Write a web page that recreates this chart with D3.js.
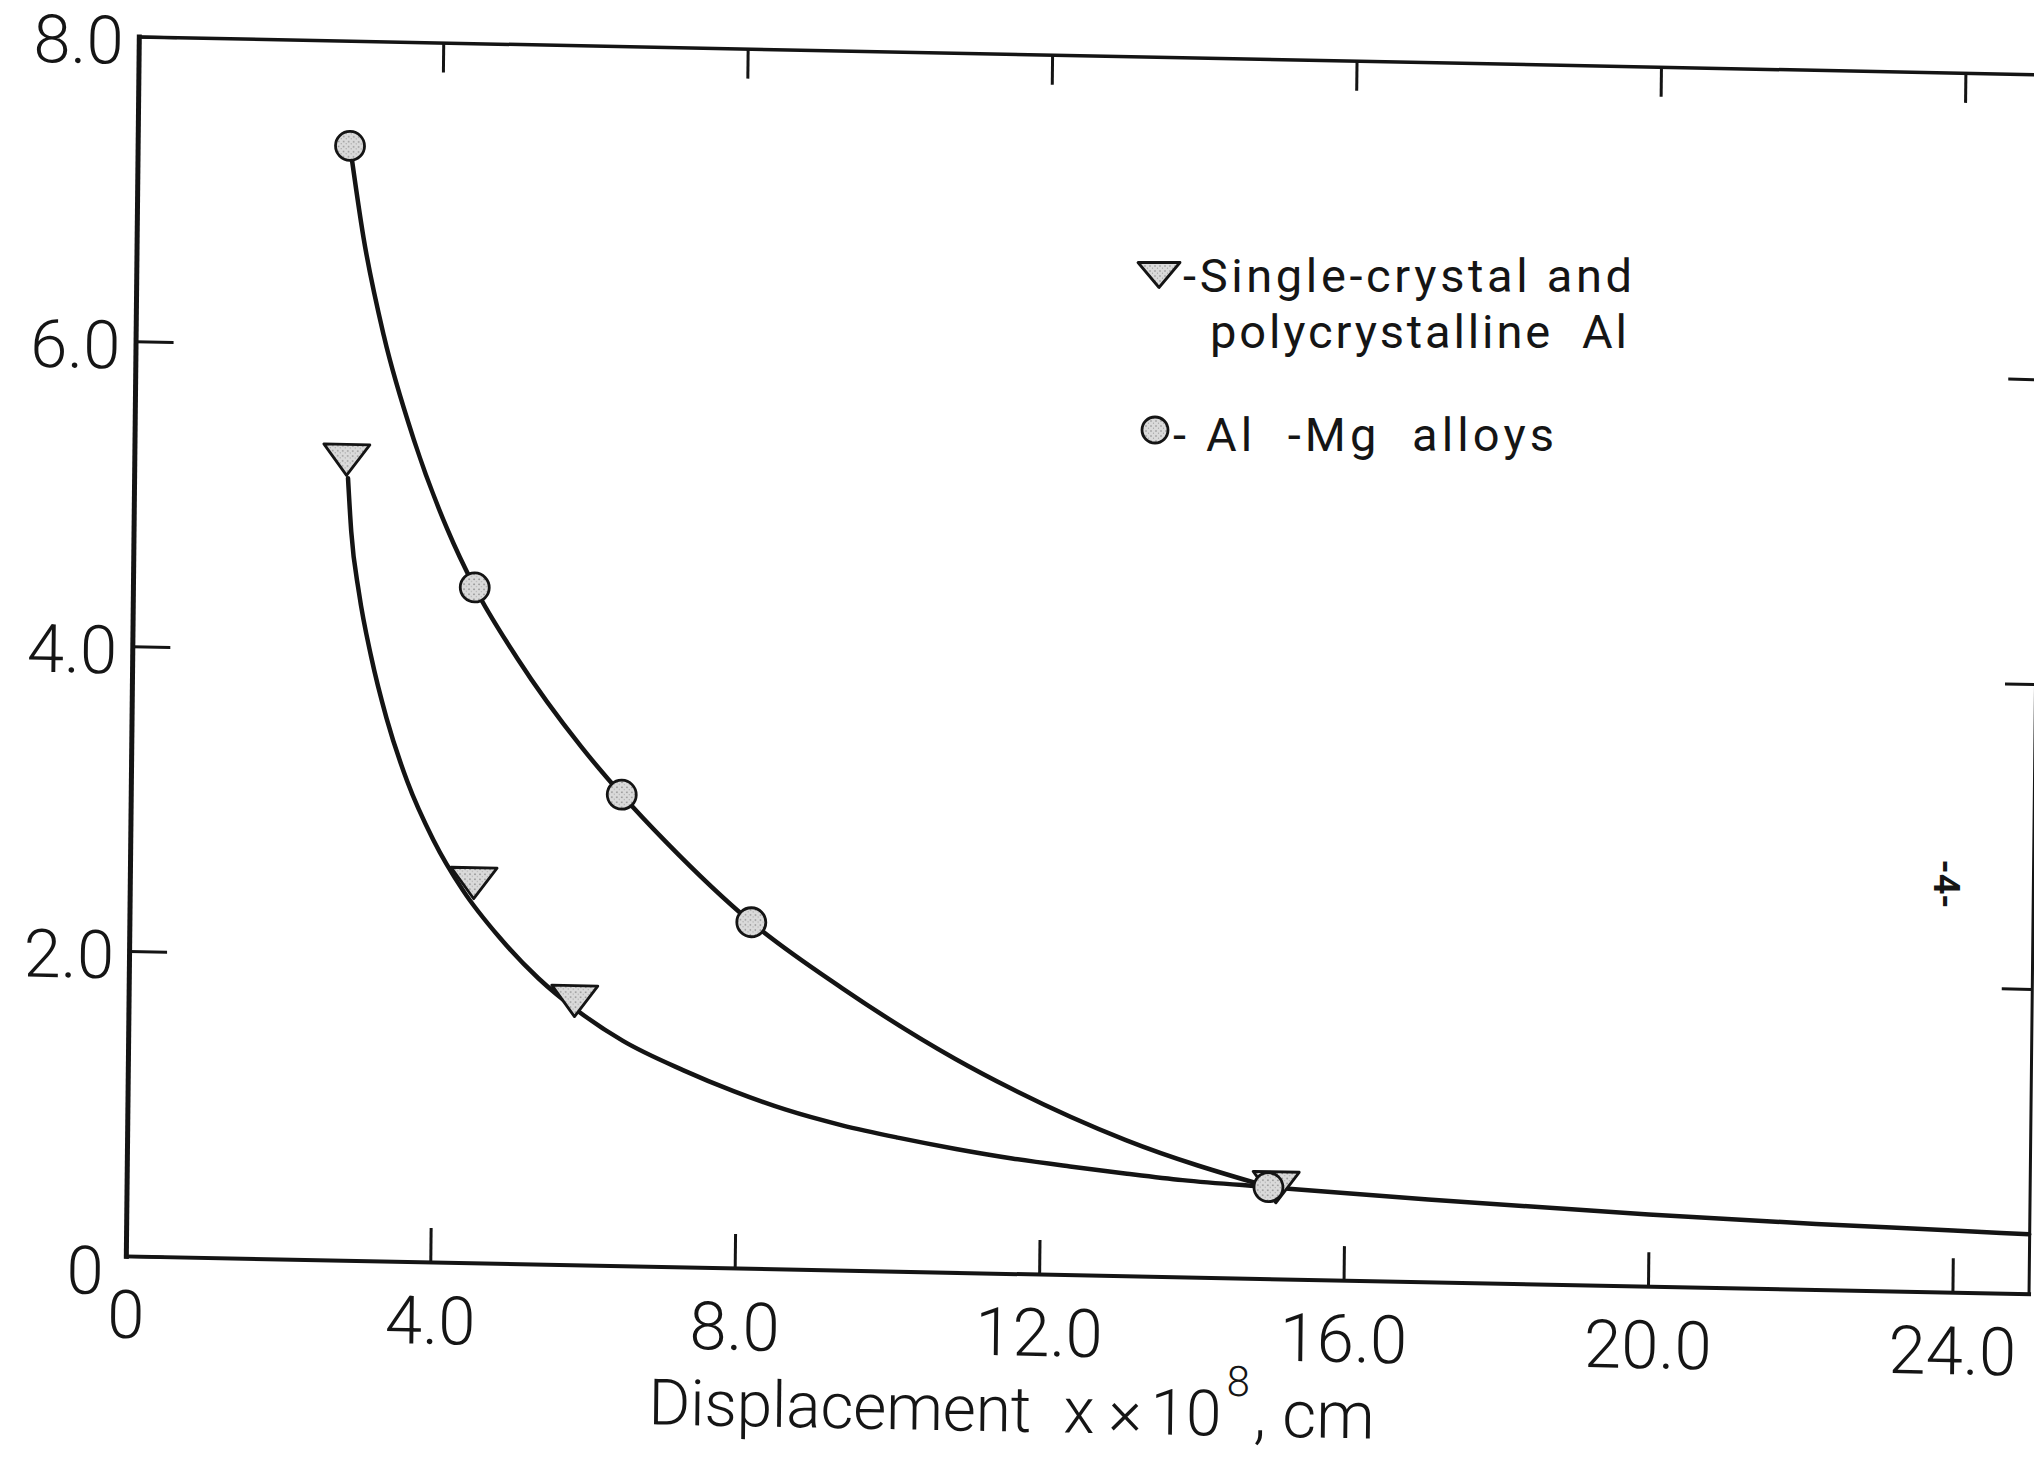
<!DOCTYPE html>
<html>
<head>
<meta charset="utf-8">
<script src="https://cdn.jsdelivr.net/npm/d3@7"></script>
<style>
  html, body { margin: 0; padding: 0; background: #fff; }
  svg { display: block; }
  text { font-family: Roboto, "DejaVu Sans", sans-serif; fill: #151515; white-space: pre; }
</style>
</head>
<body>
<svg id="chart" width="2034" height="1457"></svg>
<script>
// ---- axis ticks and labels ----
const xTicks = [0, 4, 8, 12, 16, 20, 24];
const xTickLabels = ["0", "4.0", "8.0", "12.0", "16.0", "20.0", "24.0"];
const yTicks = [0, 2, 4, 6, 8];
const yTickLabels = ["0", "2.0", "4.0", "6.0", "8.0"];
const topTicks = [4, 8, 12, 16, 20, 24];
const rightTicks = [2, 4, 6];

// ---- measured points (markers) ----
const alloyX = [2.79, 4.49, 6.45, 8.17, 15.0];
const alloyY = [7.31, 4.43, 3.09, 2.27, 0.60];
const crystalX = [2.79, 4.52, 5.86, 15.1];
const crystalY = [5.25, 2.49, 1.73, 0.60];

// ---- faired curves drawn through the data ----
const alloyCurveX = [2.79, 2.98, 3.26, 3.67, 4.12, 4.49, 5.06, 5.91, 6.45, 7.05, 8.17, 9.37,
                     10.87, 11.62, 13.12, 15.02];
const alloyCurveY = [7.31, 6.71, 6.07, 5.39, 4.81, 4.43, 3.97, 3.40, 3.09, 2.78, 2.27, 1.85,
                     1.40, 1.21, 0.89, 0.60];
const crystalCurveX = [2.81, 2.86, 2.97, 3.14, 3.35, 3.63, 3.98, 4.38, 4.86, 5.38, 5.90, 6.50,
                       7.30, 7.96, 8.65, 9.39, 10.14, 10.89, 11.63, 12.39, 13.14, 13.87, 15.02,
                       17.1, 20.0, 22.2, 24.0, 25.0];
const crystalCurveY = [5.13, 4.78, 4.38, 3.96, 3.56, 3.15, 2.77, 2.44, 2.14, 1.875, 1.667, 1.475,
                       1.29, 1.16, 1.045, 0.95, 0.875, 0.81, 0.755, 0.71, 0.67, 0.635, 0.60,
                       0.54, 0.47, 0.43, 0.405, 0.39];

// ---- text ----
const legendLines = ["-Single-crystal and", "polycrystalline  Al", "- Al  -Mg  alloys"];
const pageMark = "-4-";

// ---- drawing ----
const ink = "#141414";
const fontFam = 'Roboto, "DejaVu Sans", sans-serif';
const W = 1902.7, H = 1219.4;
// the sheet sits slightly skewed: the axis frame is mapped with a small affine tilt
const frame = "matrix(1,0.0199,-0.01063,1,138.8,36.5)";

const svg = d3.select("#chart");
svg.append("rect").attr("width", 2034).attr("height", 1457).attr("fill", "#fff");

const defs = svg.append("defs");
const pat = defs.append("pattern").attr("id", "stipple")
  .attr("patternUnits", "userSpaceOnUse").attr("width", 5).attr("height", 5);
pat.append("rect").attr("width", 5).attr("height", 5).attr("fill", "#dadada");
pat.append("circle").attr("cx", 1).attr("cy", 1).attr("r", 0.8).attr("fill", "#888");
pat.append("circle").attr("cx", 3.5).attr("cy", 3.2).attr("r", 0.6).attr("fill", "#a0a0a0");

const plot = svg.append("g").attr("transform", frame);
const x = d3.scaleLinear().domain([0, 25]).range([0, W]);
const y = d3.scaleLinear().domain([0, 8]).range([H, 0]);

function styleAxis(g, width) {
  g.attr("font-family", fontFam).attr("font-size", 67).attr("font-weight", 300);
  g.select(".domain").attr("stroke", ink).attr("stroke-width", width).attr("stroke-linecap", "square");
  g.selectAll(".tick line").attr("stroke", ink).attr("stroke-width", 3);
  g.selectAll(".tick text").attr("fill", ink);
}

// curves
const line = d3.line().x(d => x(d[0])).y(d => y(d[1])).curve(d3.curveMonotoneX);
plot.append("path")
  .attr("d", line(alloyCurveX.map((v, i) => [v, alloyCurveY[i]])))
  .attr("fill", "none").attr("stroke", ink).attr("stroke-width", 4.5).attr("stroke-linecap", "round");
plot.append("path")
  .attr("d", line(crystalCurveX.map((v, i) => [v, crystalCurveY[i]])))
  .attr("fill", "none").attr("stroke", ink).attr("stroke-width", 4.5).attr("stroke-linecap", "round");

// markers
const triPath = "M-23,-15.5L23,-15.5L0,15.5Z";
plot.selectAll(".crystal").data(crystalX.map((v, i) => [v, crystalY[i]])).join("path")
  .attr("class", "crystal")
  .attr("transform", d => `translate(${x(d[0])},${y(d[1])})`)
  .attr("d", triPath)
  .attr("fill", "url(#stipple)").attr("stroke", ink).attr("stroke-width", 2.8).attr("stroke-linejoin", "round");
plot.selectAll(".alloy").data(alloyX.map((v, i) => [v, alloyY[i]])).join("circle")
  .attr("class", "alloy")
  .attr("cx", d => x(d[0])).attr("cy", d => y(d[1])).attr("r", 14.5)
  .attr("fill", "url(#stipple)").attr("stroke", ink).attr("stroke-width", 2.8);

// axes
const gLeft = plot.append("g")
  .call(d3.axisLeft(y).tickValues(yTicks).tickSize(-38).tickSizeOuter(0)
        .tickFormat((d, i) => yTickLabels[i]));
styleAxis(gLeft, 5);
gLeft.selectAll(".tick text").attr("x", d => d === 0 ? -22 : -15).attr("y", d => d === 0 ? 38 : 27).attr("dy", "0");

const gBottom = plot.append("g").attr("transform", `translate(0,${H})`)
  .call(d3.axisBottom(x).tickValues(xTicks).tickSize(-34).tickSizeOuter(0)
        .tickFormat((d, i) => xTickLabels[i]));
styleAxis(gBottom, 4);
gBottom.selectAll(".tick text").attr("y", 82).attr("dy", "0");

const gTop = plot.append("g")
  .call(d3.axisTop(x).tickValues(topTicks).tickSize(-30).tickSizeOuter(0).tickFormat(""));
styleAxis(gTop, 3.5);

const gRight = plot.append("g").attr("transform", `translate(${W},0)`)
  .call(d3.axisRight(y).tickValues(rightTicks).tickSize(-30).tickSizeOuter(0).tickFormat(""));
styleAxis(gRight, 3);

// axis title: Displacement x × 10^8, cm
const titleY = H + 158;
const titleG = plot.append("g").attr("font-family", fontFam).attr("font-weight", 300).attr("fill", ink);
titleG.append("text").attr("x", 524).attr("y", titleY).attr("font-size", 64)
  .attr("textLength", 383).attr("lengthAdjust", "spacing").text("Displacement");
const mid = titleG.append("text").attr("y", titleY).attr("font-size", 64);
mid.append("tspan").attr("x", 939).text("x");
mid.append("tspan").attr("x", 984).text("×");
mid.append("tspan").attr("x", 1026).text("10");
titleG.append("text").attr("x", 1102).attr("y", titleY - 40).attr("font-size", 42).text("8");
titleG.append("text").attr("x", 1129).attr("y", titleY).attr("font-size", 66).text(", cm");

// legend
const legend = svg.append("g").attr("font-family", fontFam).attr("font-weight", 400).attr("font-size", 47);
legend.append("path").attr("transform", "translate(1159,275)")
  .attr("d", "M-21,-12.5L21,-12.5L0,12.5Z")
  .attr("fill", "url(#stipple)").attr("stroke", ink).attr("stroke-width", 2.8).attr("stroke-linejoin", "round");
legend.append("circle").attr("cx", 1155).attr("cy", 430).attr("r", 13)
  .attr("fill", "url(#stipple)").attr("stroke", ink).attr("stroke-width", 2.8);
const legendPos = [[1183, 292, 449], [1210, 348, 417], [1173, 451, 381]];
// first entry spans two lines, kept as a single text block
const entry1 = legend.append("text").attr("fill", ink);
[0, 1].forEach(i => {
  entry1.append("tspan")
    .attr("x", legendPos[i][0]).attr("y", legendPos[i][1])
    .attr("textLength", legendPos[i][2]).attr("lengthAdjust", "spacing")
    .text(legendLines[i]);
});
legend.append("text").attr("fill", ink)
  .attr("x", legendPos[2][0]).attr("y", legendPos[2][1])
  .attr("textLength", legendPos[2][2]).attr("lengthAdjust", "spacing")
  .text(legendLines[2]);

// page number in the margin
svg.append("text").attr("transform", "translate(1947,884) rotate(90)")
  .attr("text-anchor", "middle").attr("dy", "0.35em")
  .attr("font-family", fontFam).attr("font-size", 36).attr("font-weight", 700).attr("fill", ink)
  .text(pageMark);
</script>
</body>
</html>
